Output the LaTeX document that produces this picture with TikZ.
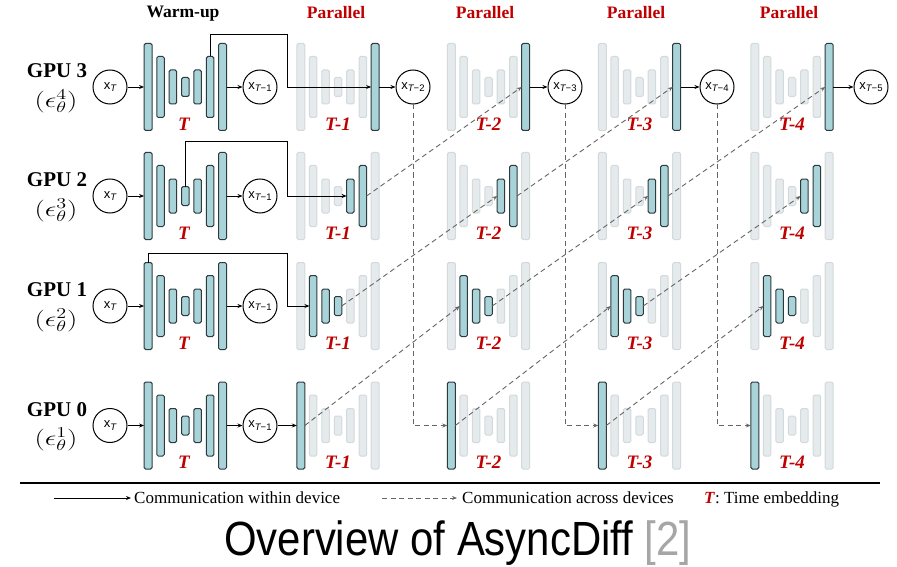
\documentclass[tikz,border=0pt]{standalone}
\usepackage{fontspec}
\setmainfont{Liberation Serif}
\newfontfamily\capfont{Liberation Sans}
\usetikzlibrary{arrows.meta}
\definecolor{barblue}{HTML}{A8D4D9}
\definecolor{barline}{HTML}{2E3A3E}
\definecolor{greyfill}{HTML}{E5EAEC}
\definecolor{greyline}{HTML}{D3D9DC}
\definecolor{tred}{HTML}{C00000}
\definecolor{dashgrey}{HTML}{666666}
\definecolor{refgrey}{HTML}{A6A6A6}
\newcommand\xlab[1]{{\capfont\fontsize{13}{13}\selectfont x\raisebox{-2.5pt}{\fontsize{9.5}{9.5}\selectfont\itshape T\upshape#1}}}
\begin{document}
\begin{tikzpicture}[x=1pt,y=-1pt,
  barA/.style={draw=barline, fill=barblue, line width=1pt, rounded corners=1.5pt, inner sep=0pt, outer sep=0pt},
  barG/.style={draw=greyline, fill=greyfill, line width=1pt, rounded corners=1.5pt, inner sep=0pt, outer sep=0pt},
  state/.style={circle, draw=black, line width=1pt, fill=white, minimum size=34pt, inner sep=0pt},
  solidarrow/.style={draw=black, line width=0.9pt, -{Stealth[length=5pt,width=4pt]}},
  dasharrow/.style={draw=dashgrey, line width=0.9pt, dash pattern=on 5pt off 3.5pt, -{Stealth[length=5pt,width=4pt]}},
  tlabel/.style={text=tred, font=\fontsize{19}{19}\selectfont\bfseries\itshape, inner sep=0pt},
  hdr/.style={font=\fontsize{17.5}{17.5}\selectfont\bfseries, inner sep=0pt},
  gpu/.style={font=\fontsize{21}{21}\selectfont\bfseries, inner sep=0pt},
  eps/.style={font=\fontsize{20}{20}\selectfont, inner sep=0pt},
  leg/.style={font=\fontsize{17}{17}\selectfont, inner sep=0pt},
]
\useasboundingbox (0,0) rectangle (897,567);
\fill[white] (0,0) rectangle (897,567);

% U-Net bars
\foreach \r/\y/\lo/\hi in {3/87/7/7, 2/196/5/6, 1/306/2/4, 0/425.5/1/1} {
  \foreach \c/\x in {0/185.3, 1/338, 2/488.5, 3/639.5, 4/792} {
    \foreach \i/\h/\w in {1/87/8, 2/61/7.5, 3/34/7.5, 4/19/7.5, 5/34/7.5, 6/61/7.5, 7/87/8} {
      \pgfmathsetmacro\bx{\x+12.4*(\i-4)}
      \def\bst{barG}
      \ifnum\c=0 \def\bst{barA}\else
        \ifnum\i<\lo\relax\else\ifnum\i>\hi\relax\else\def\bst{barA}\fi\fi
      \fi
      \node[\bst, minimum width=\w pt, minimum height=\h pt] (b-\r-\c-\i) at (\bx,\y) {};
    }
  }
}

% time labels
\foreach \r/\y in {3/87, 2/196, 1/306, 0/425.5} {
  \foreach \c/\x/\t in {0/184/T, 1/338/T-1, 2/488.5/T-2, 3/639.5/T-3, 4/792/T-4} {
    \node[tlabel] (lab-\r-\c) at (\x,\y+37) {\t};
  }
}

% headers
\node[hdr] (h0) at (183,14) {Warm-up};
\foreach \c/\x in {1/336, 2/485, 3/636, 4/789} {
  \node[hdr, text=tred] (h\c) at (\x,13) {Parallel};
}

% GPU labels
\foreach \r/\y in {3/87, 2/196, 1/306, 0/425.5} {
  \pgfmathtruncatemacro\n{\r+1}
  \node[gpu] (g\r) at (57,\y-16) {GPU \r};
  \node[eps] (e\r) at (56,\y+14) {\scalebox{1.4}[1.05]{$(\epsilon_\theta^{\n})$}};
}

% state circles
\foreach \r/\y in {3/87, 2/196, 1/306, 0/425.5} {
  \node[state] (xT-\r) at (110,\y) {\xlab{}};
  \node[state] (xa-\r) at (260,\y) {\xlab{−1}};
}
\foreach \c/\x/\s in {1/413/2, 2/565/3, 3/717/4, 4/871/5} {
  \node[state] (xo-\c) at (\x,87) {\xlab{−\s}};
}

% within-device connectors
\foreach \r in {0,...,3} {
  \draw[solidarrow] (xT-\r) -- (b-\r-0-1);
  \draw[solidarrow] (b-\r-0-7) -- (xa-\r);
}
\coordinate (k3) at (287,34);
\coordinate (k2) at (287,141);
\coordinate (k1) at (287,253);
\draw[solidarrow] (b-3-0-6.north) |- (k3) |- (b-3-1-7.west);
\draw[solidarrow] (b-2-0-4.north) |- (k2) |- (b-2-1-5.west);
\draw[solidarrow] (b-1-0-1.north) |- (k1) |- (b-1-1-2.west);
\draw[solidarrow] (xa-0) -- (b-0-1-1);
\foreach \c in {1,...,4} {
  \draw[solidarrow] (b-3-\c-7) -- (xo-\c);
}

% across-device connectors
\foreach \c/\n in {1/2, 2/3, 3/4} {
  \draw[dasharrow] (xo-\c.south) |- (b-0-\n-1.west);
  \draw[dasharrow] (b-0-\c-1.east) -- (b-1-\n-2.west);
  \draw[dasharrow] (b-1-\c-4.east) -- (b-2-\n-5.west);
  \draw[dasharrow] (b-2-\c-6.east) -- (b-3-\n-7.west);
}

% legend
\coordinate (sepL) at (20,483);
\coordinate (sepR) at (880,483);
\draw[line width=2.5pt] (sepL) -- (sepR);
\coordinate (l1a) at (54,498);
\coordinate (l1b) at (131,498);
\draw[solidarrow] (l1a) -- (l1b);
\node[leg, anchor=base west] (l1t) at (134,503.5) {Communication within device};
\coordinate (l2a) at (382,498);
\coordinate (l2b) at (457,498);
\draw[dasharrow] (l2a) -- (l2b);
\node[leg, anchor=base west] (l2t) at (462,503.5) {Communication across devices};
\node[leg, anchor=base west] (l3t) at (704,503.5) {\textcolor{tred}{\textbf{\textit{T}}}: Time embedding};

% caption
\node[anchor=base west, font=\capfont\fontsize{48}{48}\selectfont, inner sep=0pt] (cap) at (224,555) {\scalebox{0.873}[1]{Overview of AsyncDiff \textcolor{refgrey}{[2]}}};
\end{tikzpicture}
\end{document}
